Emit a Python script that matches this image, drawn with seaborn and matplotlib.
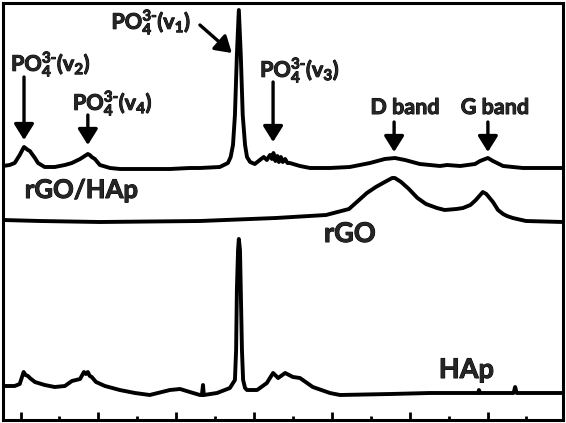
import matplotlib
matplotlib.use('Agg')
import matplotlib.pyplot as plt
import matplotlib.patheffects as pe
import seaborn as sns
from matplotlib.ticker import MultipleLocator

# Raman spectra (wavenumber in cm^-1, intensity in a.u., offset stacked)
wn_comp = [355, 372, 385, 398, 406, 409, 419, 424, 437, 445, 462, 488, 501, 514, 532, 553,
           565, 573, 578, 583, 591, 604, 630, 656, 694, 732, 784, 835, 861, 912, 933, 940,
           946, 951, 956, 961, 966, 971, 977, 982, 990, 1002, 1015, 1025, 1033, 1041, 1046,
           1050, 1055, 1060, 1064, 1069, 1074, 1080, 1086, 1092, 1118, 1144, 1195, 1246, 1298,
           1336, 1362, 1388, 1426, 1478, 1496, 1530, 1568, 1581, 1594, 1601, 1614, 1640, 1665,
           1691, 1794]
int_comp = [254, 255, 257, 265, 271, 273, 270, 269, 262, 257, 253, 253, 254, 255, 257, 261,
            264, 266, 265, 263, 261, 255, 252, 251, 251, 251, 251, 252, 252, 253, 257, 263,
            275, 305, 365, 410, 365, 305, 275, 263, 258, 256, 260, 263, 260, 265, 261,
            267, 259, 264, 258, 263, 258, 261, 257, 257, 254, 252, 252, 253, 257,
            261, 262, 260, 256, 254, 255, 254, 256, 259, 261, 262, 259, 254, 253,
            252, 252]

wn_rgo = [355, 450, 604, 861, 1056, 1185, 1244, 1270, 1290, 1313, 1336, 1355, 1362, 1378,
          1398, 1420, 1442, 1470, 1490, 1520, 1537, 1556, 1570, 1588, 1597, 1614, 1627, 1640,
          1650, 1665, 1699, 1794]
int_rgo = [200, 199, 198, 199, 202, 205, 211, 220, 227, 233, 238, 242, 242, 238,
           231, 222, 216, 212, 210, 211, 212, 215, 220, 228, 226, 218, 210, 206,
           204, 202, 199, 198]

wn_hap = [355, 385, 398, 403, 408, 413, 419, 424, 437, 462, 488, 514, 532, 553, 563, 568,
          573, 578, 583, 594, 617, 655, 694, 732, 784, 810, 835, 861, 866, 869, 871, 905,
          938, 951, 954, 956, 959, 961, 964, 966, 969, 972, 977, 982, 1008, 1033, 1049, 1062,
          1080, 1100, 1118, 1151, 1195, 1221, 1350, 1452, 1576, 1578, 1581, 1667, 1671, 1675,
          1794]
int_hap = [34, 34, 36, 42, 48, 45, 44, 42, 38, 35, 33, 34, 39, 41, 48, 46,
           48, 44, 43, 38, 34, 30, 27, 25, 30, 31, 28, 25, 25, 35, 25, 27,
           32, 40, 70, 130, 170, 181, 170, 130, 70, 40, 32, 30, 30, 37, 47, 42,
           47, 43, 42, 33, 27, 25, 26, 27, 27, 30, 27, 27, 33, 27,
           27]

# peak annotations: label, text position, arrow tail, arrow tip
peak_labels = [r'PO$_4^{3\text{-}}$(v$_2$)', r'PO$_4^{3\text{-}}$(v$_4$)',
               r'PO$_4^{3\text{-}}$(v$_1$)', r'PO$_4^{3\text{-}}$(v$_3$)', 'D band', 'G band']
label_xy = [(478, 349), (637, 310), (736, 391), (1118, 343), (1388, 306), (1619, 306)]
arrow_tail = [(409, 343), (573, 305), (861, 395), (1049, 338), (1360, 298), (1601, 298)]
arrow_tip = [(409, 280), (573, 275), (943, 367), (1049, 278), (1360, 268), (1601, 268)]

sns.set_theme(style='white')
plt.rcParams['font.family'] = ['Lato', 'DejaVu Sans']
plt.rcParams['mathtext.fontset'] = 'custom'
plt.rcParams['mathtext.rm'] = 'Lato:bold'
plt.rcParams['mathtext.it'] = 'Lato:bold'
plt.rcParams['mathtext.bf'] = 'Lato:bold'

fig = plt.figure(figsize=(5.66, 4.23), dpi=100)
ax = fig.add_axes([3 / 566, 3 / 423, 560 / 566, 417 / 423])

for wn, inten in [(wn_comp, int_comp), (wn_rgo, int_rgo), (wn_hap, int_hap)]:
    sns.lineplot(x=wn, y=inten, ax=ax, color='black', lw=2.8)

ax.set_xlim(355, 1794)
ax.set_ylim(0, 417)

heavy = [pe.withStroke(linewidth=0.7, foreground='black')]
for lab, pos, tail, tip in zip(peak_labels, label_xy, arrow_tail, arrow_tip):
    ax.text(pos[0], pos[1], lab, ha='center', va='baseline', fontsize=15.5,
            fontweight='bold', path_effects=heavy)
    ax.annotate('', xy=tip, xytext=tail,
                arrowprops=dict(arrowstyle='-|>,head_length=0.4,head_width=0.25', lw=2.4,
                                color='black', mutation_scale=24, shrinkA=0, shrinkB=0))

ax.text(411, 222, 'rGO/HAp', ha='left', va='baseline', fontsize=18.5, fontweight='bold',
        path_effects=heavy)
ax.text(1180, 178, 'rGO', ha='left', va='baseline', fontsize=19.5, fontweight='bold',
        path_effects=heavy)
ax.text(1475, 42, 'HAp', ha='left', va='baseline', fontsize=19.5, fontweight='bold',
        path_effects=heavy)

ax.xaxis.set_major_locator(MultipleLocator(200))
ax.xaxis.set_minor_locator(MultipleLocator(200, offset=100))
ax.tick_params(axis='x', which='both', direction='in', bottom=True, top=False,
               labelbottom=False, width=2, color='black')
ax.tick_params(axis='x', which='major', length=6)
ax.tick_params(axis='x', which='minor', length=3)
ax.set_yticks([])
ax.set_xlabel('')
ax.set_ylabel('')
for sp in ax.spines.values():
    sp.set_color('black')
    sp.set_linewidth(2.2)

fig.savefig('out.png', dpi=100)
